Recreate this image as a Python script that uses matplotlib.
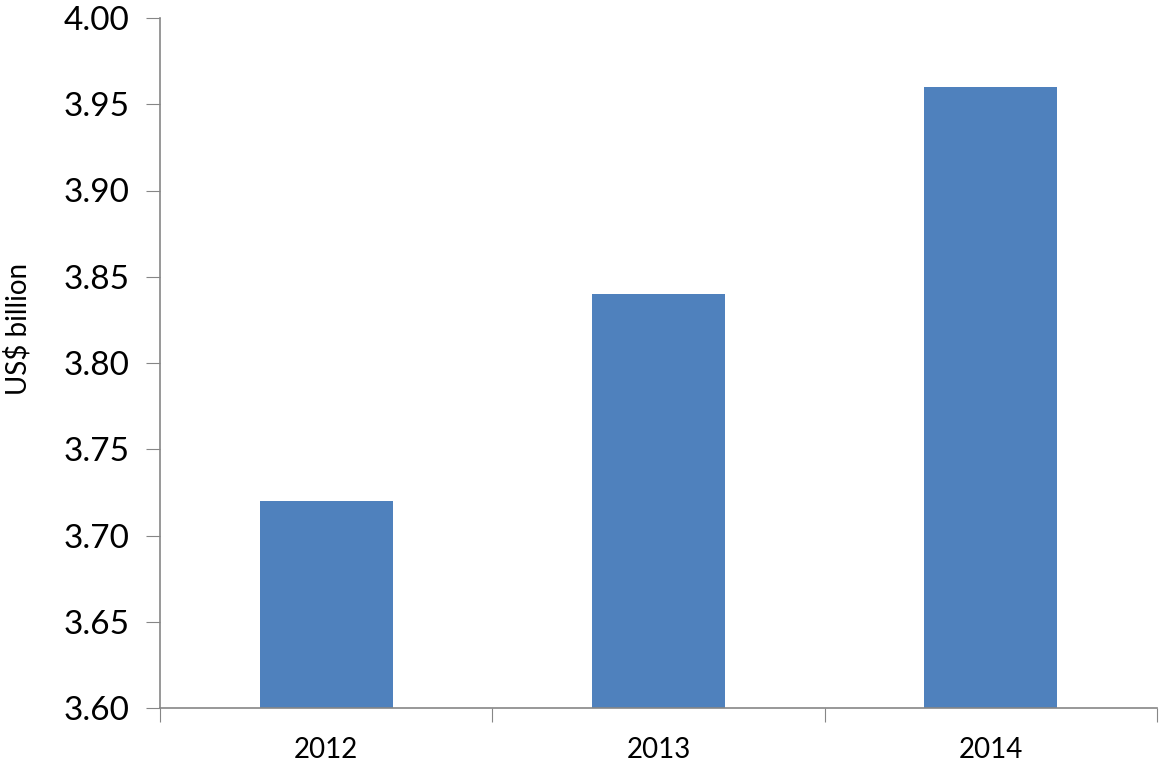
import matplotlib.pyplot as plt
import numpy as np

# Data
years = ['2012', '2013', '2014']
values = [3.72, 3.84, 3.96]
y_ticks = [3.60, 3.65, 3.70, 3.75, 3.80, 3.85, 3.90, 3.95, 4.00]

plt.rcParams['font.family'] = ['Lato', 'DejaVu Sans']

fig = plt.figure(figsize=(11.66, 7.63), dpi=100)
ax = fig.add_axes([160 / 1166, 55 / 763, 997 / 1166, 690 / 763])

x = np.arange(len(years))
ax.bar(x, values, width=0.4, color='#4F81BD', zorder=2)

ax.set_xlim(-0.5, len(years) - 0.5)
ax.set_ylim(3.60, 4.00)
ax.set_yticks(y_ticks)
ax.set_yticklabels(['%.2f' % v for v in y_ticks], fontsize=24)

# category boundaries as tick marks, labels in the middle
ax.set_xticks(np.arange(-0.5, len(years), 1.0))
ax.set_xticklabels([])
ax.set_xticks(x, minor=True)
ax.set_xticklabels(years, minor=True, fontsize=20)
ax.tick_params(axis='x', which='minor', length=0, pad=21)
ax.tick_params(axis='x', which='major', length=10, color='#868686', direction='out')
ax.tick_params(axis='y', length=10, color='#868686', direction='out', pad=12)

for s in ['top', 'right']:
    ax.spines[s].set_visible(False)
for s in ['left', 'bottom']:
    ax.spines[s].set_color('#868686')
    ax.spines[s].set_linewidth(1.2)

ax.set_ylabel('US$ billion', fontsize=20)
ax.yaxis.set_label_coords(-0.129, 0.55)

fig.savefig('out.png', dpi=100)
